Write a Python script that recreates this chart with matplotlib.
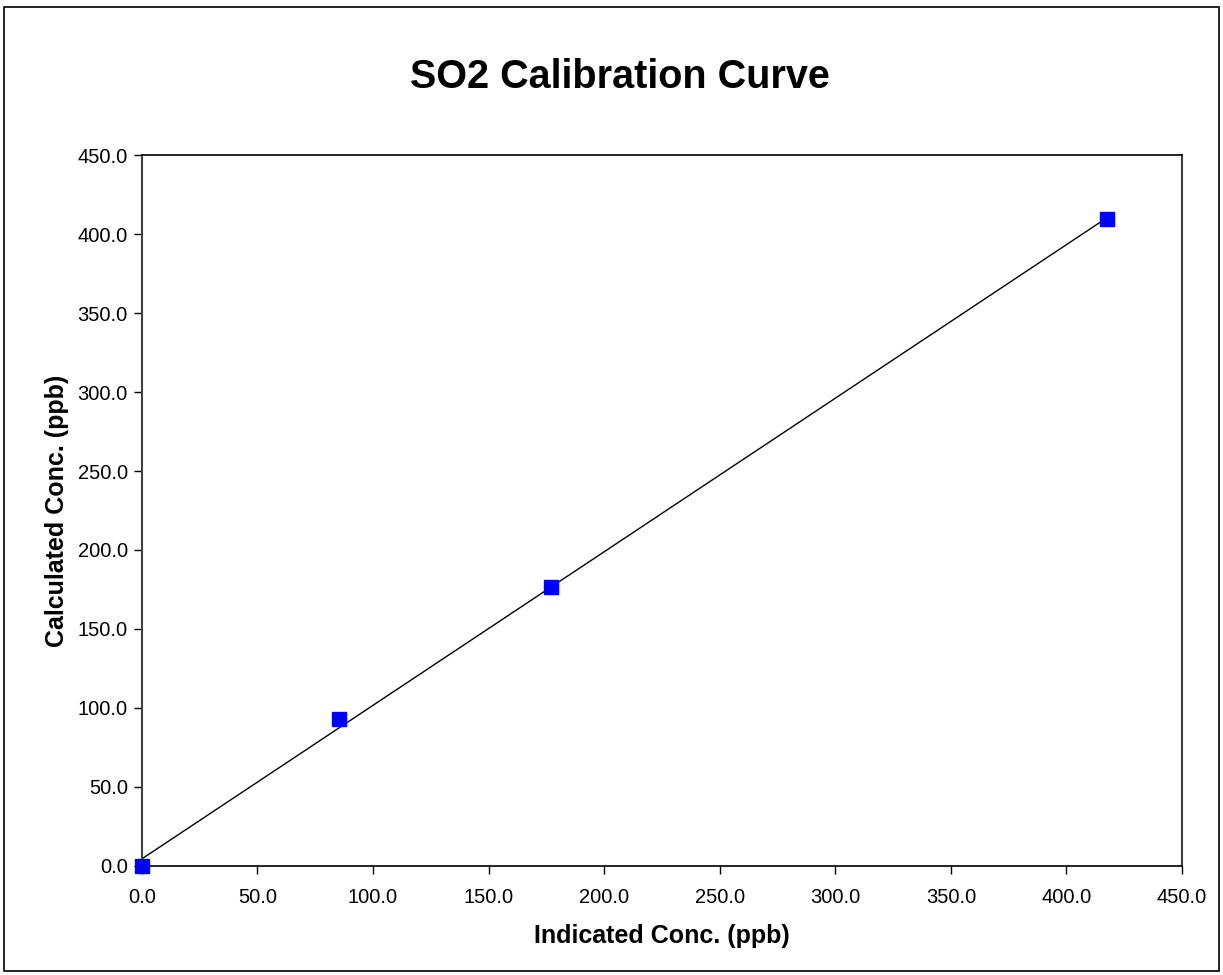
import numpy as np
import matplotlib
matplotlib.use('Agg')
import matplotlib.pyplot as plt
from matplotlib.ticker import FormatStrFormatter, MultipleLocator
from matplotlib.patches import Rectangle

plt.rcParams['font.family'] = ['Liberation Sans', 'DejaVu Sans']

# Calibration points
indicated = [0.0, 85.4, 177.2, 417.7]
calculated = [0.0, 92.9, 176.4, 409.6]

# Linear trend line through the points
slope, intercept = np.polyfit(indicated, calculated, 1)
x_fit = np.array([min(indicated), max(indicated)])
y_fit = slope * x_fit + intercept

fig = plt.figure(figsize=(12.23, 9.75), dpi=100)
ax = fig.add_axes([0.1159, 0.1121, 0.8506, 0.7286])

ax.plot(x_fit, y_fit, color='black', linewidth=1.0, zorder=2)
ax.plot(indicated, calculated, linestyle='none', marker='s', markersize=9.5,
        color='#0000FF', zorder=3, clip_on=False)

ax.set_xlim(0, 450)
ax.set_ylim(0, 450)
ax.xaxis.set_major_locator(MultipleLocator(50))
ax.yaxis.set_major_locator(MultipleLocator(50))
ax.xaxis.set_major_formatter(FormatStrFormatter('%.1f'))
ax.yaxis.set_major_formatter(FormatStrFormatter('%.1f'))
ax.tick_params(direction='out', length=6, width=1, labelsize=14.5)
ax.tick_params(axis='x', pad=10)
ax.tick_params(axis='y', pad=4)

for side in ['left', 'right']:
    ax.spines[side].set_color('#404040')
    ax.spines[side].set_linewidth(1.5)
for side in ['top', 'bottom']:
    ax.spines[side].set_color('black')
    ax.spines[side].set_linewidth(1.2)

ax.set_xlabel('Indicated Conc. (ppb)', fontsize=18, fontweight='bold', labelpad=12)
ax.set_ylabel('Calculated Conc. (ppb)', fontsize=18, fontweight='bold', labelpad=6)
fig.text(0.507, 0.921, 'SO2 Calibration Curve', ha='center', va='center',
         fontsize=28.5, fontweight='bold')

# Chart area border
fig.patches.append(Rectangle((0.003, 0.004), 0.994, 0.989, transform=fig.transFigure,
                             fill=False, edgecolor='black', linewidth=1.2))

fig.savefig('out.png', dpi=100)
